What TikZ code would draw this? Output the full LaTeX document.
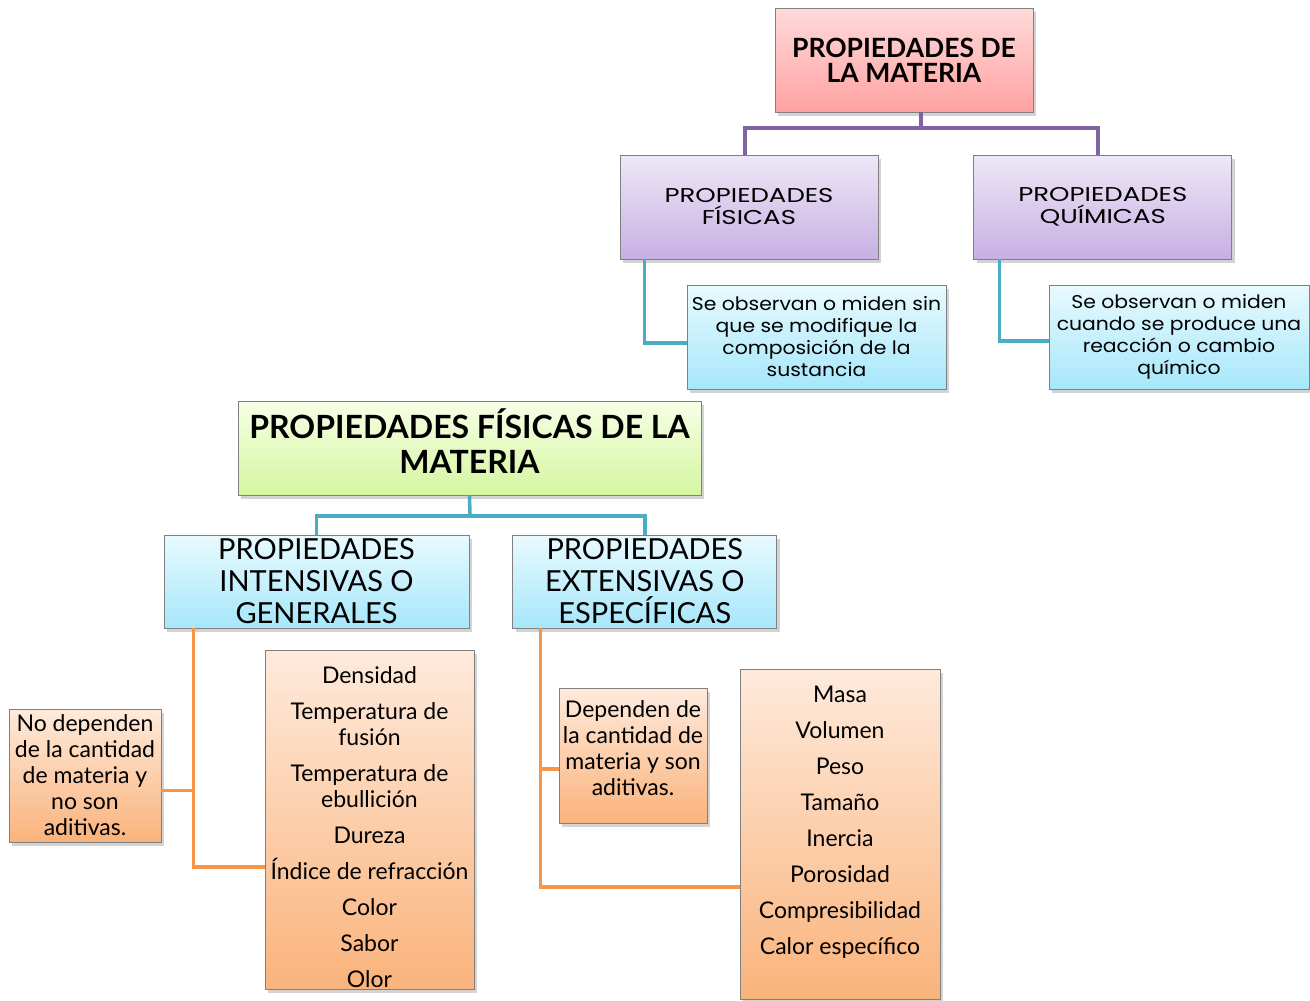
\documentclass[tikz,border=0pt]{standalone}
\usepackage{fontspec}
\setmainfont{Lato}
\newfontfamily\gothicfont[FakeStretch=1.3]{Poppins}
\newfontfamily\gothictext[FakeStretch=1.1]{Poppins}
\usepackage{xcolor}
\definecolor{boxLine}{HTML}{808080}
\definecolor{pinkTop}{HTML}{FFDADA}
\definecolor{pinkBot}{HTML}{FFA2A2}
\definecolor{lilaTop}{HTML}{EEE8F7}
\definecolor{lilaBot}{HTML}{C7AFE3}
\definecolor{cyanTop}{HTML}{E8FAFE}
\definecolor{cyanBot}{HTML}{A6E7FB}
\definecolor{greenTop}{HTML}{F7FFE6}
\definecolor{greenBot}{HTML}{D4F6A0}
\definecolor{orangeTop}{HTML}{FEEADC}
\definecolor{orangeBot}{HTML}{FAB37B}
\definecolor{linePurple}{HTML}{8064A2}
\definecolor{lineTeal}{HTML}{4BACC6}
\definecolor{lineOrange}{HTML}{F79646}
\usetikzlibrary{positioning,shadows,calc}
\tikzset{%
  baseBox/.style={%
    rectangle,
    draw=boxLine,
    line width=0.8pt,
    inner sep=0pt,
    align=center,
    shading=axis,
    drop shadow={opacity=0.35, shadow xshift=3pt, shadow yshift=-4pt}
  },
  pinkBox/.style={baseBox, top color=pinkTop, bottom color=pinkBot},
  lilaBox/.style={baseBox, top color=lilaTop, bottom color=lilaBot,
    font=\gothicfont\fontsize{20}{22}\selectfont},
  cyanBox/.style={baseBox, top color=cyanTop, bottom color=cyanBot},
  greenBox/.style={baseBox, top color=greenTop, bottom color=greenBot},
  orangeBox/.style={baseBox, top color=orangeTop, bottom color=orangeBot,
    font=\fontsize{23}{26}\selectfont},
  purpleLine/.style={line width=3.5pt, draw=linePurple},
  tealLine/.style={line width=3.5pt, draw=lineTeal},
  orangeLine/.style={line width=3.5pt, draw=lineOrange}
}

\begin{document}
\begin{tikzpicture}[x=1pt, y=-1pt]
  \useasboundingbox (0,0) rectangle (1310,1001);

  % propiedades de la materia
  \node[pinkBox, minimum width=258pt, minimum height=104pt,
        font=\bfseries\fontsize{26.5}{25}\selectfont] (mat) at (904,60)
        {PROPIEDADES DE\\LA MATERIA};
  \node[lilaBox, minimum width=258pt, minimum height=104pt] (fis) at (749,207)
        {PROPIEDADES\\FÍSICAS};
  \node[lilaBox, minimum width=258pt, minimum height=104pt, right=95pt of fis] (qui)
        {PROPIEDADES\\QUÍMICAS};
  \node[cyanBox, minimum width=259pt, minimum height=104pt,
        font=\gothictext\fontsize{18.5}{22}\selectfont] (obsFis) at (816.5,337)
        {Se observan o miden sin\\que se modifique la\\composición de la\\sustancia};
  \node[cyanBox, minimum width=260pt, minimum height=104pt,
        font=\gothictext\fontsize{18.5}{22}\selectfont] (obsQui) at (1179,337)
        {Se observan o miden\\cuando se produce una\\reacción o cambio\\químico};

  \coordinate (pbar) at (921,128);
  \draw[purpleLine] (mat.south -| pbar) -- (pbar);
  \draw[purpleLine] ([xshift=-4pt]fis.north) |- (pbar) -| ([xshift=-5pt]qui.north);
  \draw[tealLine] ([xshift=25pt]fis.south west) |- ([yshift=-6pt]obsFis.west);
  \draw[tealLine] ([xshift=26pt]qui.south west) |- ([yshift=-4pt]obsQui.west);

  % propiedades fisicas
  \node[greenBox, minimum width=463pt, minimum height=94pt,
        font=\bfseries\fontsize{32}{35}\selectfont] (fisMat) at (469.5,448)
        {\parbox[c][94pt][t]{463pt}{\centering\vspace*{8pt}%
         PROPIEDADES FÍSICAS DE LA\\MATERIA}};
  \node[cyanBox, minimum width=305pt, minimum height=93pt,
        font=\fontsize{29}{32}\selectfont] (inten) at (316.5,581.5)
        {PROPIEDADES\\INTENSIVAS O\\GENERALES};
  \node[cyanBox, minimum width=264pt, minimum height=93pt,
        font=\fontsize{29}{32}\selectfont, right=43pt of inten] (exten)
        {PROPIEDADES\\EXTENSIVAS O\\ESPECÍFICAS};

  \coordinate (gbar) at (470,516);
  \draw[tealLine] (fisMat.south) -- (gbar);
  \draw[tealLine] (inten.north) |- (gbar) -| (exten.north);

  \node[orangeBox, minimum width=152pt, minimum height=133pt] (noDep) at (85,775.5)
        {No dependen\\de la cantidad\\de materia y\\no son\\aditivas.};
  \node[orangeBox, minimum width=209pt, minimum height=339pt] (dens) at (369.5,819.5)
        {\parbox[c][339pt][t]{209pt}{\centering\vspace*{17pt}%
         Densidad\\[10pt]Temperatura de\\fusión\\[10pt]Temperatura de\\ebullición\\[10pt]%
         Dureza\\[10pt]Índice de refracción\\[10pt]Color\\[10pt]Sabor\\[10pt]Olor}};
  \node[orangeBox, minimum width=148pt, minimum height=135pt] (dep) at (633,755.5)
        {\parbox[c][135pt][t]{148pt}{\centering\vspace*{13pt}%
         Dependen de\\la cantidad de\\materia y son\\aditivas.}};
  \node[orangeBox, minimum width=200pt, minimum height=330pt] (masa) at (840,834)
        {\parbox[c][330pt][t]{200pt}{\centering\vspace*{17pt}%
         Masa\\[10pt]Volumen\\[10pt]Peso\\[10pt]Tamaño\\[10pt]Inercia\\[10pt]%
         Porosidad\\[10pt]Compresibilidad\\[10pt]Calor específico}};

  \draw[orangeLine] ([xshift=30pt]inten.south west) |- ([yshift=-15pt]noDep.east);
  \draw[orangeLine] ([xshift=30pt]inten.south west) |- ([yshift=-47.5pt]dens.west);
  \draw[orangeLine] ([xshift=28pt]exten.south west) |- ([yshift=-13.5pt]dep.west);
  \draw[orangeLine] ([xshift=28pt]exten.south west) |- ([yshift=-53pt]masa.west);
\end{tikzpicture}
\end{document}
